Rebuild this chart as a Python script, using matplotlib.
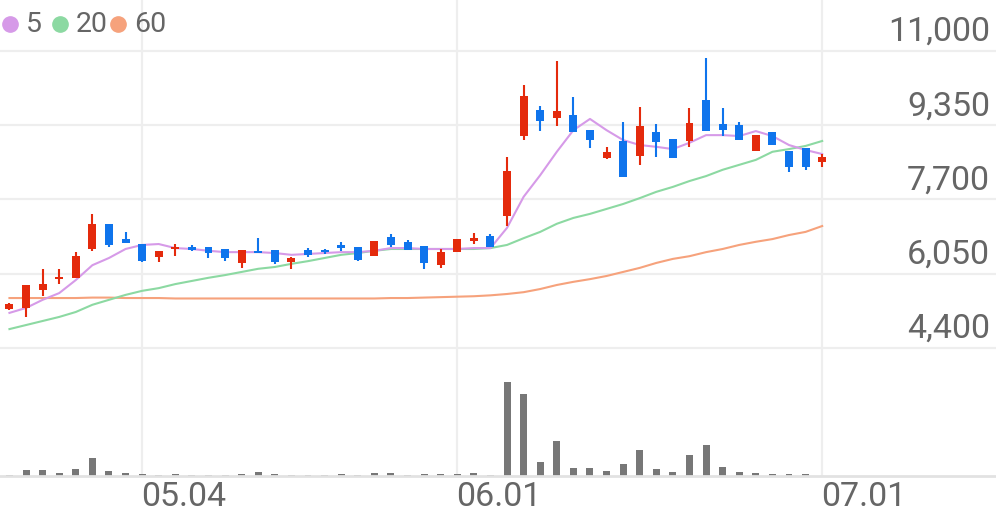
import numpy as np
import matplotlib
matplotlib.use('Agg')
import matplotlib.pyplot as plt
from matplotlib.lines import Line2D

plt.rcParams['font.family'] = ['Roboto', 'DejaVu Sans']

# daily candles (50 sessions)
opens = [5270, 5290, 5690, 5930, 5960, 6600, 7160, 6820, 6710, 6420,
         6600, 6640, 6640, 6600, 6290, 6560, 6580, 6310, 6580, 6560,
         6690, 6640, 6440, 6870, 6760, 6670, 6240, 6530, 6780, 6890,
         7330, 9110, 9690, 9510, 9580, 9240, 8620, 9000, 8670, 9200,
         9040, 9000, 9910, 9380, 9360, 8780, 9200, 8780, 8840, 8530]
highs = [5400, 5800, 6160, 6160, 6530, 7380, 7160, 6980, 6710, 6560,
         6710, 6690, 6640, 6600, 6580, 6840, 6580, 6420, 6620, 6600,
         6760, 6640, 6780, 6930, 6800, 6670, 6600, 6820, 6960, 6930,
         8640, 10240, 9780, 10780, 9980, 9240, 8870, 9420, 9760, 9380,
         9040, 9730, 10840, 9730, 9420, 9130, 9200, 8780, 8840, 8710]
lows = [5240, 5090, 5560, 5820, 5960, 6560, 6640, 6730, 6310, 6310,
        6440, 6560, 6400, 6330, 6180, 6510, 6270, 6160, 6420, 6490,
        6560, 6330, 6440, 6640, 6580, 6160, 6180, 6530, 6710, 6640,
        7110, 9020, 9220, 9330, 9200, 8840, 8600, 8200, 8470, 8640,
        8620, 8870, 9220, 9110, 9020, 8780, 8910, 8310, 8360, 8420]
closes = [5380, 5800, 5820, 5980, 6440, 7160, 6690, 6730, 6330, 6560,
          6620, 6580, 6510, 6400, 6580, 6510, 6310, 6400, 6470, 6530,
          6620, 6360, 6780, 6690, 6580, 6290, 6530, 6820, 6840, 6640,
          8330, 10000, 9440, 9670, 9200, 9020, 8760, 8200, 9330, 8980,
          8620, 9400, 9220, 9240, 9020, 9130, 8910, 8420, 8420, 8640]

ma5 = [5180, 5290, 5470, 5620, 5910, 6240, 6400, 6600, 6690, 6710,
       6620, 6600, 6560, 6530, 6530, 6530, 6510, 6470, 6490, 6510,
       6530, 6530, 6560, 6620, 6620, 6600, 6600, 6600, 6620, 6620,
       7070, 7760, 8240, 8760, 9240, 9490, 9240, 9020, 8910, 8870,
       8820, 8960, 9130, 9130, 9110, 9220, 9110, 8910, 8800, 8710]
ma20 = [4820, 4910, 5000, 5090, 5200, 5360, 5470, 5580, 5670, 5730,
        5820, 5890, 5960, 6020, 6090, 6160, 6200, 6270, 6330, 6400,
        6470, 6510, 6560, 6600, 6600, 6600, 6600, 6600, 6600, 6620,
        6690, 6840, 6980, 7160, 7290, 7380, 7490, 7600, 7730, 7870,
        7980, 8110, 8220, 8360, 8470, 8580, 8760, 8820, 8890, 9000]
ma60 = [5510, 5510, 5510, 5510, 5510, 5520, 5520, 5510, 5510, 5510,
        5500, 5500, 5500, 5500, 5500, 5500, 5500, 5500, 5500, 5500,
        5500, 5500, 5500, 5510, 5510, 5520, 5530, 5540, 5550, 5570,
        5600, 5640, 5710, 5800, 5870, 5930, 6000, 6090, 6180, 6290,
        6380, 6440, 6530, 6600, 6690, 6760, 6820, 6910, 6980, 7110]

volume = [30, 120, 120, 70, 140, 360, 100, 60, 50, 30,
          36, 22, 24, 22, 36, 74, 36, 30, 22, 22,
          46, 26, 66, 66, 24, 34, 34, 40, 60, 30,
          1880, 1640, 280, 700, 166, 154, 100, 234, 514, 134,
          74, 426, 626, 174, 86, 54, 34, 40, 46, 10]

price_ticks = [4400, 6050, 7700, 9350, 11000]
date_labels = ['05.04', '06.01', '07.01']
date_idx = [8, 27, 49]

RED = '#e42a0c'
BLUE = '#0f74ec'
GRID = '#eeeeee'
TXT = '#666666'
ma_colors = ['#d69ae8', '#8cd9a2', '#f6a27c']

fig = plt.figure(figsize=(9.96, 5.19), dpi=100)
ax = fig.add_axes([0, 1 - 360 / 519, 1, 360 / 519])
axv = fig.add_axes([0, 1 - 476 / 519, 1, 116 / 519])

x = np.arange(len(closes))
xlim = (-0.57, 59.48)

# price panel
for t in price_ticks:
    ax.axhline(t, color=GRID, lw=1.6, zorder=0)
    ax.annotate(f'{t:,}', xy=(0.994, t), xycoords=('axes fraction', 'data'),
                xytext=(0, 3), textcoords='offset pixels', ha='right', va='bottom',
                fontsize=24.5, color=TXT)
for d in date_idx:
    ax.axvline(d, color=GRID, lw=1.6, zorder=0)
    axv.axvline(d, color=GRID, lw=1.6, zorder=0)

ax.plot(x, ma60, color=ma_colors[2], lw=1.5, zorder=2)
ax.plot(x, ma20, color=ma_colors[1], lw=1.5, zorder=2)
ax.plot(x, ma5, color=ma_colors[0], lw=1.5, zorder=2)

for i in range(len(closes)):
    o, h, l, c = opens[i], highs[i], lows[i], closes[i]
    col = RED if c >= o else BLUE
    ax.vlines(i, l, h, color=col, lw=1.5, zorder=3)
    body = max(abs(c - o), 40)
    ax.bar(i, body, bottom=min(o, c), width=0.48, color=col, zorder=3)

ax.set_xlim(*xlim)
ax.set_ylim(4133, 12133)
ax.axis('off')

# volume panel
axv.bar(x, volume, width=0.42, color='#777777', zorder=2)
axv.set_xlim(*xlim)
axv.set_ylim(0, 2320)
for s in ['top', 'left', 'right']:
    axv.spines[s].set_visible(False)
axv.spines['bottom'].set_color('#e2e2e2')
axv.spines['bottom'].set_linewidth(2)
axv.set_xticks([])
axv.set_yticks([])
for d, lab in zip(date_idx, date_labels):
    axv.annotate(lab, xy=(d, 0), xycoords=('data', 'axes fraction'),
                 xytext=(-1, -5), textcoords='offset pixels', ha='left', va='top',
                 fontsize=24.5, color=TXT)

# legend
leg_x = [10, 60, 118]
for lx, col, lab in zip(leg_x, ma_colors, ['5', '20', '60']):
    fig.add_artist(Line2D([lx / 996], [1 - 24 / 519], marker='o', markersize=11,
                          color=col, transform=fig.transFigure))
    fig.text((lx + 16) / 996, 1 - 24 / 519, lab, ha='left', va='center',
             fontsize=20.5, color=TXT)

fig.savefig('out.png', dpi=100)
